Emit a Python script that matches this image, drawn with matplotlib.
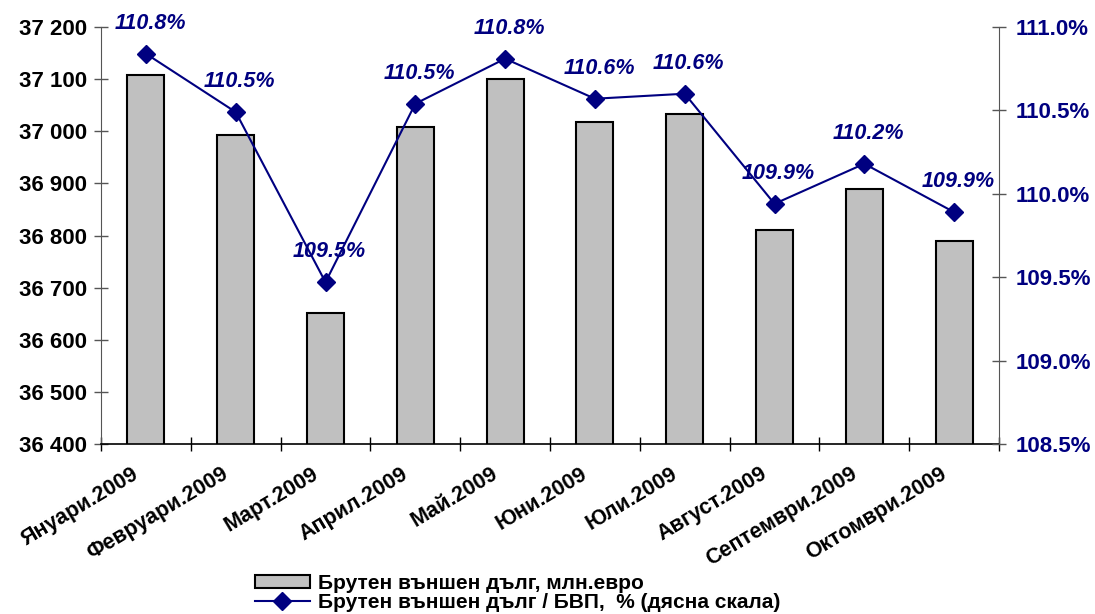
import numpy as np
import matplotlib.pyplot as plt
from matplotlib.ticker import FuncFormatter, MultipleLocator

plt.rcParams['font.family'] = ['Liberation Sans', 'DejaVu Sans']

months = ['Януари.2009', 'Февруари.2009', 'Март.2009', 'Април.2009', 'Май.2009',
          'Юни.2009', 'Юли.2009', 'Август.2009', 'Септември.2009', 'Октомври.2009']
debt = [37108, 36993, 36651, 37008, 37100, 37018, 37033, 36811, 36889, 36790]
debt_gdp = [110.84, 110.49, 109.47, 110.54, 110.81, 110.57, 110.60, 109.94, 110.18, 109.89]
debt_gdp_labels = ['110.8%', '110.5%', '109.5%', '110.5%', '110.8%',
                   '110.6%', '110.6%', '109.9%', '110.2%', '109.9%']

navy = '#000080'

fig = plt.figure(figsize=(10.95, 6.14), dpi=100)
ax = fig.add_axes([101 / 1095, 1 - 444 / 614, (999 - 101) / 1095, (444 - 27) / 614])
x = np.arange(len(months))

ax.bar(x, debt, width=0.41, color='#C0C0C0', edgecolor='black', linewidth=1.5,
       label='Брутен външен дълг, млн.евро', zorder=2)
ax.set_xlim(-0.5, len(months) - 0.5)
ax.set_ylim(36400, 37200)
ax.yaxis.set_major_locator(MultipleLocator(100))
ax.yaxis.set_major_formatter(FuncFormatter(lambda v, p: f'{int(v):,}'.replace(',', ' ')))
ax.set_xticks(np.arange(len(months) + 1) - 0.5, minor=False)
ax.set_xticklabels([])
# category labels sit a little left of the bar centres, as in the original
ax.set_xticks(x - 0.16, minor=True)
ax.set_xticklabels(months, minor=True, rotation=31, ha='right', rotation_mode='anchor',
                   fontsize=15.5, fontweight='bold')
ax.tick_params(axis='x', which='minor', length=0, pad=14)
ax.tick_params(axis='x', which='major', direction='inout', length=10, width=1)
ax.tick_params(axis='y', direction='inout', length=10, width=1, color='#555555',
               labelsize=16, pad=5)
for lab in ax.get_yticklabels():
    lab.set_fontweight('bold')
ax.spines['top'].set_visible(False)
ax.spines['right'].set_visible(False)
ax.spines['left'].set_color('#555555')
ax.spines['bottom'].set_linewidth(1.2)

ax2 = ax.twinx()
ax2.plot(x, debt_gdp, color=navy, lw=1.5, marker='D', markersize=9,
         label='Брутен външен дълг / БВП,  % (дясна скала)', zorder=3)
ax2.set_ylim(108.5, 111.0)
ax2.yaxis.set_major_locator(MultipleLocator(0.5))
ax2.yaxis.set_major_formatter(FuncFormatter(lambda v, p: f'{v:.1f}%'))
ax2.tick_params(axis='y', direction='inout', length=10, width=1, color='#555555',
                labelsize=16, labelcolor=navy, pad=7)
for lab in ax2.get_yticklabels():
    lab.set_fontweight('bold')
ax2.spines['top'].set_visible(False)
ax2.spines['left'].set_visible(False)
ax2.spines['bottom'].set_visible(False)
ax2.spines['right'].set_color('#555555')

for xi, yi, t in zip(x, debt_gdp, debt_gdp_labels):
    ax2.annotate(t, (xi, yi), xytext=(3, 22), textcoords='offset points',
                 ha='center', va='center', color=navy, fontsize=15.5,
                 fontweight='bold', fontstyle='italic')

h1, l1 = ax.get_legend_handles_labels()
h2, l2 = ax2.get_legend_handles_labels()
fig.legend(h1 + h2, l1 + l2, loc='lower left', bbox_to_anchor=(247 / 1095, -0.01),
           frameon=False, prop={'weight': 'bold', 'size': 15},
           handlelength=2.6, handleheight=0.65, handletextpad=0.4,
           labelspacing=0.0, borderaxespad=0)

fig.savefig('out.png', dpi=100)
